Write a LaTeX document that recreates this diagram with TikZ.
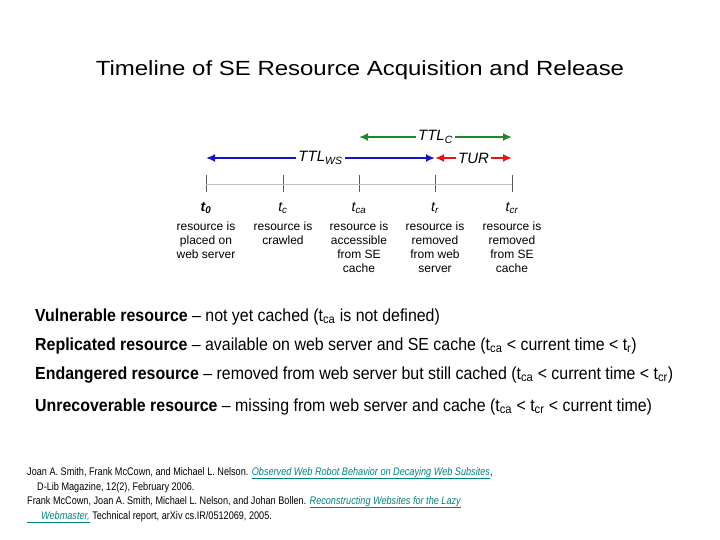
\documentclass[tikz,border=0pt]{standalone}
\usepackage{fontspec}
\setmainfont{Liberation Sans}
\newfontfamily\titlefont{Liberation Sans}[Ligatures=TeX, FakeStretch=1.17]
\newfontfamily\kindfont{Liberation Sans}[Ligatures=TeX, FakeStretch=0.91]
\newfontfamily\citefont{Liberation Sans}[Ligatures=TeX, FakeStretch=0.83]
\usetikzlibrary{arrows.meta}
\definecolor{linkteal}{RGB}{0,128,128}
\definecolor{ttlgreen}{RGB}{30,135,40}
\definecolor{ttlblue}{RGB}{20,20,200}
\definecolor{turred}{RGB}{230,20,20}
\newcommand{\sub}[1]{\textsubscript{#1}}
\newcommand{\weblink}[1]{\textcolor{linkteal}{\underline{\textit{#1}}}}

\begin{document}
\begin{tikzpicture}[x=1pt,y=-1pt,
  tick/.style={gray!70!black, line width=0.8pt},
  stamp/.style={font=\fontsize{14}{16}\selectfont\itshape},
  what/.style={font=\fontsize{12}{14}\selectfont, align=center, anchor=north, inner sep=0pt},
  span/.style={{Latex[length=9pt,width=8pt]}-{Latex[length=9pt,width=8pt]}, line width=2.5pt},
  spanlabel/.style={fill=white, text=black, font=\fontsize{15}{17}\selectfont\itshape, inner sep=2pt},
  kind/.style={anchor=base west, font=\kindfont\fontsize{17.5}{20}\selectfont, inner sep=0pt},
  cite/.style={anchor=base west, font=\citefont\fontsize{11}{13}\selectfont, inner sep=0pt}]
  \useasboundingbox (0,0) rectangle (720,540);
  \node[font=\titlefont\fontsize{20.5}{24}\selectfont, anchor=base] (title) at (360,76) {Timeline of SE Resource Acquisition and Release};

  % timeline
  \foreach \x/\n in {206/t0,283/tc,359/tca,435/tr,512/tcr}
  {
    \draw[tick] (\x,175) coordinate (\n-top) -- (\x,192) coordinate (\n-bot);
    \coordinate (\n-mid) at (\x,184);
    \coordinate (\n-low) at (\x,158);
    \coordinate (\n-high) at (\x,137);
  }
  \draw[gray!50] (t0-mid) -- (tcr-mid);
  \draw[span, ttlblue] (t0-low) -- node[spanlabel] {TTL\sub{WS}} (tr-low);
  \draw[span, ttlgreen] (tca-high) -- node[spanlabel] {TTL\sub{C}} (tcr-high);
  \draw[span, turred] (tr-low) -- node[spanlabel] {TUR} (tcr-low);

  \node[stamp] (s0) at (206,208) {\textbf{t\sub{0}}};
  \node[stamp] (sc) at (283,208) {t\sub{c}};
  \node[stamp] (sca) at (359,208) {t\sub{ca}};
  \node[stamp] (sr) at (435,208) {t\sub{r}};
  \node[stamp] (scr) at (512,208) {t\sub{cr}};

  \node[what] (d0) at (206,222) {resource is\\placed on\\web server};
  \node[what] (dc) at (283,222) {resource is\\crawled};
  \node[what] (dca) at (359,222) {resource is\\accessible\\from SE\\cache};
  \node[what] (dr) at (435,222) {resource is\\removed\\from web\\server};
  \node[what] (dcr) at (512,222) {resource is\\removed\\from SE\\cache};

  % kinds of resources
  \node[kind] (vul) at (35,321) {\textbf{Vulnerable resource} -- not yet cached (t\sub{ca} is not defined)};
  \node[kind] (rep) at (35,350) {\textbf{Replicated resource} -- available on web server and SE cache (t\sub{ca} < current time < t\sub{r})};
  \node[kind] (end) at (35,379) {\textbf{Endangered resource} -- removed from web server but still cached (t\sub{ca} < current time < t\sub{cr})};
  \node[kind] (unr) at (35,411) {\textbf{Unrecoverable resource} -- missing from web server and cache (t\sub{ca} < t\sub{cr} < current time)};

  % references
  \node[cite] (ref1) at (27,475) {Joan A. Smith, Frank McCown, and Michael L. Nelson. \weblink{Observed Web Robot Behavior on Decaying Web Subsites}, };
  \node[cite] (ref1b) at (37,490) {D-Lib Magazine, 12(2), February 2006.};
  \node[cite] (ref2) at (27,504) {Frank McCown, Joan A. Smith, Michael L. Nelson, and Johan Bollen. \weblink{Reconstructing Websites for the Lazy}};
  \node[cite] (ref2b) at (27,519) {\weblink{\hspace{14pt}Webmaster,} Technical report, arXiv cs.IR/0512069, 2005.};
\end{tikzpicture}
\end{document}
